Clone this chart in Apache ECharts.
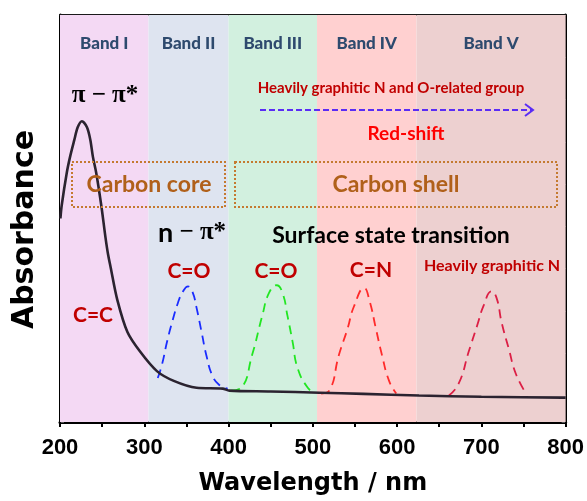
<!DOCTYPE html>
<html>
<head>
<meta charset="utf-8">
<script src="https://cdn.jsdelivr.net/npm/echarts@6/dist/echarts.min.js"></script>
<style>html,body{margin:0;padding:0;background:#fff}#c{width:587px;height:501px}</style>
</head>
<body>
<div id="c"></div>
<script>
// ---- data ----
const wavelength = [200.5, 202, 208, 212, 217, 221, 226, 232, 236, 239, 243, 249, 254, 257, 260, 268, 280, 295, 315, 335, 362, 393, 401, 450, 508, 560, 626, 700, 796, 800];
const absorbance = [0.50, 0.532, 0.612, 0.652, 0.693, 0.724, 0.739, 0.724, 0.693, 0.652, 0.612, 0.532, 0.453, 0.412, 0.381, 0.300, 0.221, 0.173, 0.125, 0.101, 0.084, 0.082, 0.077, 0.075, 0.072, 0.069, 0.065, 0.062, 0.060, 0.060];

const coBlueX = [316, 321, 327, 333, 340, 346, 352, 357, 362, 368, 374, 381, 389, 399];
const coBlueY = [0.108, 0.141, 0.197, 0.245, 0.293, 0.321, 0.333, 0.321, 0.281, 0.221, 0.161, 0.113, 0.091, 0.082];

const coGreenX = [403, 415, 428, 440, 448, 457, 464, 470, 476, 482, 494, 502];
const coGreenY = [0.077, 0.084, 0.165, 0.261, 0.317, 0.336, 0.317, 0.260, 0.197, 0.132, 0.084, 0.072];

const cnRedX = [510, 519.5, 531, 541, 549, 561, 567, 575, 582, 590.5, 599];
const cnRedY = [0.070, 0.077, 0.165, 0.228, 0.285, 0.329, 0.300, 0.228, 0.165, 0.101, 0.070];

const gnX = [661.5, 673, 685, 695, 703, 712, 718, 724, 732.5, 741, 753];
const gnY = [0.065, 0.094, 0.173, 0.237, 0.288, 0.321, 0.305, 0.245, 0.180, 0.118, 0.070];

const bandNames = ['Band I', 'Band II', 'Band III', 'Band IV', 'Band V'];
const bandEdges = [200, 305, 400, 505, 623, 800];
const bandColors = ['#f4d9f4', '#dee4f0', '#d2f0df', '#ffd0d0', '#edd0d0'];

const xTicks = [200, 300, 400, 500, 600, 700, 800];

// ---- build ----
const zip = (xs, ys) => xs.map((x, i) => [x, ys[i]]);
const bands = bandNames.map((n, i) => [
  { xAxis: bandEdges[i], name: n, itemStyle: { color: bandColors[i] } },
  { xAxis: bandEdges[i + 1] }
]);

const SANS = 'Lato, "Open Sans", sans-serif';
function txt(text, x, y, size, color, font) {
  return {
    type: 'text', z: 100,
    style: {
      text: text, x: x, y: y, align: 'center', verticalAlign: 'middle',
      font: 'bold ' + size + 'px ' + (font || SANS), fill: color
    }
  };
}
const dashed = (color) => ({ color: color, width: 1.8, type: [9, 6] });

const chart = echarts.init(document.getElementById('c'));
chart.setOption({
  animation: false,
  backgroundColor: '#fff',
  grid: { left: 60, right: 20, top: 15, bottom: 69 },
  xAxis: [{
    type: 'value', min: 200, max: 800, interval: 50,
    axisLine: { lineStyle: { color: '#000', width: 3 } },
    axisTick: { inside: false, length: 5, lineStyle: { color: '#000', width: 2 } },
    axisLabel: {
      margin: 15, color: '#000', fontSize: 22, fontWeight: 'bold', fontFamily: '"Liberation Sans", Arial, sans-serif',
      formatter: v => (xTicks.indexOf(v) >= 0 ? String(v) : '')
    },
    splitLine: { show: false },
    name: 'Wavelength / nm', nameLocation: 'middle', nameGap: 50,
    nameTextStyle: { color: '#000', fontSize: 24, fontWeight: 'bold', fontFamily: '"DejaVu Sans", sans-serif' }
  }, {
    type: 'value', min: 200, max: 800, position: 'top',
    axisLine: { lineStyle: { color: '#1a1a1a', width: 2 } },
    axisTick: { show: false }, axisLabel: { show: false }, splitLine: { show: false }
  }],
  yAxis: [{
    type: 'value', min: 0, max: 1, show: false
  }, {
    type: 'value', inverse: true, min: 0, max: 9.63, interval: 1, position: 'left',
    axisLine: { show: true, lineStyle: { color: '#000', width: 3 } },
    axisTick: { inside: true, length: 4, lineStyle: { color: '#555', width: 1 } },
    axisLabel: { show: false }, splitLine: { show: false },
    name: 'Absorbance', nameLocation: 'middle', nameGap: 20,
    nameTextStyle: {
      color: '#000', fontSize: 30, fontWeight: 'bold', fontFamily: '"DejaVu Sans", sans-serif',
      padding: [0, 22, 0, 0]
    }
  }, {
    type: 'value', inverse: true, min: 0, max: 9.63, interval: 1, position: 'right',
    axisLine: { show: true, lineStyle: { color: '#000', width: 3 } },
    axisTick: { inside: true, length: 4, lineStyle: { color: '#555', width: 1 } },
    axisLabel: { show: false }, splitLine: { show: false }
  }],
  series: [{
    name: 'Absorbance', type: 'line', data: zip(wavelength, absorbance),
    smooth: 0.3, showSymbol: false, z: 5,
    lineStyle: { color: '#2b2330', width: 2.6 },
    markArea: {
      silent: true,
      label: {
        show: true, position: 'insideTop', distance: 20,
        color: '#2e4a6e', fontSize: 17, fontWeight: 900, fontFamily: SANS
      },
      data: bands
    }
  }, {
    name: 'C=O (II)', type: 'line', data: zip(coBlueX, coBlueY), smooth: 0.5, showSymbol: false, z: 4,
    lineStyle: dashed('#1a2cff')
  }, {
    name: 'C=O (III)', type: 'line', data: zip(coGreenX, coGreenY), smooth: 0.5, showSymbol: false, z: 4,
    lineStyle: dashed('#22e622')
  }, {
    name: 'C=N', type: 'line', data: zip(cnRedX, cnRedY), smooth: 0.5, showSymbol: false, z: 4,
    lineStyle: dashed('#ff2a2a')
  }, {
    name: 'Heavily graphitic N', type: 'line', data: zip(gnX, gnY), smooth: 0.5, showSymbol: false, z: 4,
    lineStyle: dashed('#dc1f45')
  }],
  graphic: [
    txt('π − π*', 105, 96, 25, '#000', '"Liberation Serif", serif'),
    txt('Heavily graphitic N and O-related group', 391, 88, 15, '#c00000'),
    {
      type: 'line', z: 100, shape: { x1: 260, y1: 110, x2: 532, y2: 110 },
      style: { stroke: '#5a2cf5', lineWidth: 2, lineDash: [6, 3] }
    },
    {
      type: 'polyline', z: 100, shape: { points: [[525, 104], [533, 110], [525, 116]] },
      style: { stroke: '#5a2cf5', lineWidth: 2, fill: null }
    },
    txt('Red-shift', 406, 134, 19, '#ff0000'),
    {
      type: 'rect', z: 100, shape: { x: 72, y: 162, width: 153, height: 45 },
      style: { fill: null, stroke: '#c47a30', lineWidth: 2, lineDash: [2, 2] }
    },
    {
      type: 'rect', z: 100, shape: { x: 235, y: 162, width: 322, height: 45 },
      style: { fill: null, stroke: '#c47a30', lineWidth: 2, lineDash: [2, 2] }
    },
    txt('Carbon core', 149, 185, 23, '#b0601a'),
    txt('Carbon shell', 396, 185, 23, '#b0601a'),
    {
      type: 'text', z: 100,
      style: {
        text: '{n|n} − π*', x: 192, y: 233, align: 'center', verticalAlign: 'middle',
        font: 'bold 25px "Liberation Serif", serif', fill: '#000',
        rich: { n: { font: 'bold 27px ' + SANS, fill: '#000' } }
      }
    },
    txt('Surface state transition', 391, 236, 23, '#000'),
    txt('C=O', 189, 271, 21, '#c00000'),
    txt('C=O', 276, 271, 21, '#c00000'),
    txt('C=N', 371, 270, 21, '#c00000'),
    txt('Heavily graphitic N', 492, 266, 16, '#c00000'),
    txt('C=C', 93, 315, 21, '#c00000')
  ]
});
</script>
</body>
</html>
